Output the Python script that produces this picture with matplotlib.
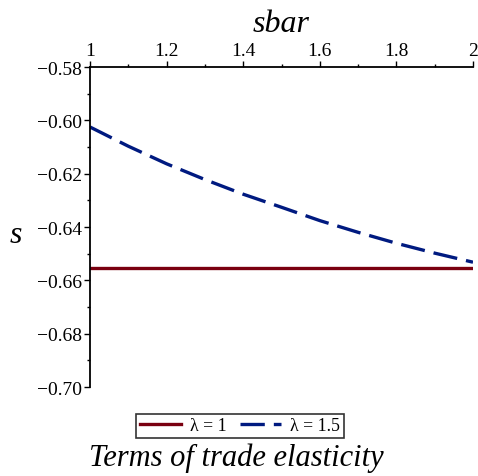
import matplotlib
matplotlib.use("Agg")
import matplotlib.pyplot as plt
from matplotlib.ticker import MultipleLocator, FuncFormatter

sbar = [1.0, 1.1, 1.2, 1.3, 1.4, 1.5, 1.6, 1.7, 1.8, 1.9, 2.0]
s_lambda1 = [-0.6555] * len(sbar)
s_lambda15 = [-0.6025, -0.6097, -0.6163, -0.6222, -0.6277, -0.6326,
              -0.6376, -0.6420, -0.6461, -0.6498, -0.6532]
labels = ["λ = 1", "λ = 1.5"]

plt.rcParams['font.family'] = ['Liberation Serif', 'DejaVu Serif']
plt.rcParams['axes.unicode_minus'] = True
plt.rcParams['lines.scale_dashes'] = False

fig = plt.figure(figsize=(4.78, 4.77), dpi=100)
ax = fig.add_axes([90/478, 1-388/477, (473-90)/478, (388-68)/477])

ax.plot(sbar, s_lambda1, color='#7a0010', lw=2.4, label=labels[0])
ax.plot(sbar, s_lambda15, color='#001a80', lw=2.4, dashes=(17.5, 6.5), label=labels[1])

ax.set_xlim(1, 2)
ax.set_ylim(-0.70, -0.58)
ax.spines['right'].set_visible(False)
ax.spines['bottom'].set_visible(False)
ax.spines['top'].set_linewidth(1.3)
ax.spines['left'].set_linewidth(1.3)
ax.xaxis.tick_top()
ax.xaxis.set_major_locator(MultipleLocator(0.2))
ax.xaxis.set_minor_locator(MultipleLocator(0.1))
ax.yaxis.set_major_locator(MultipleLocator(0.02))
ax.yaxis.set_minor_locator(MultipleLocator(0.01))
ax.xaxis.set_major_formatter(FuncFormatter(lambda v, p: ('%g' % round(v, 2))))
ax.yaxis.set_major_formatter(FuncFormatter(lambda v, p: ('−%.2f' % abs(v))))
ax.tick_params(axis='both', which='major', direction='out', length=4, width=1, labelsize=14, pad=1.5)
ax.tick_params(axis='both', which='minor', direction='out', length=2.5, width=1)

fig.text(281/478, 1-32/477, 'sbar', fontsize=23, style='italic', ha='center', va='baseline')
fig.text(16/478, 1-236/477, 's', fontsize=23, style='italic', ha='center', va='center')
fig.text(236/478, 1-466/477, 'Terms of trade elasticity', fontsize=22, style='italic',
         ha='center', va='baseline')

leg = fig.legend(loc='center', bbox_to_anchor=(240/478, 1-427/477), ncol=2, fontsize=12.8,
                 frameon=True, fancybox=False, edgecolor='black', handlelength=2.3,
                 handletextpad=0.5, columnspacing=0.8, borderpad=0.2, borderaxespad=0)
leg.get_frame().set_linewidth(1.2)

fig.savefig('out.png', dpi=100)
